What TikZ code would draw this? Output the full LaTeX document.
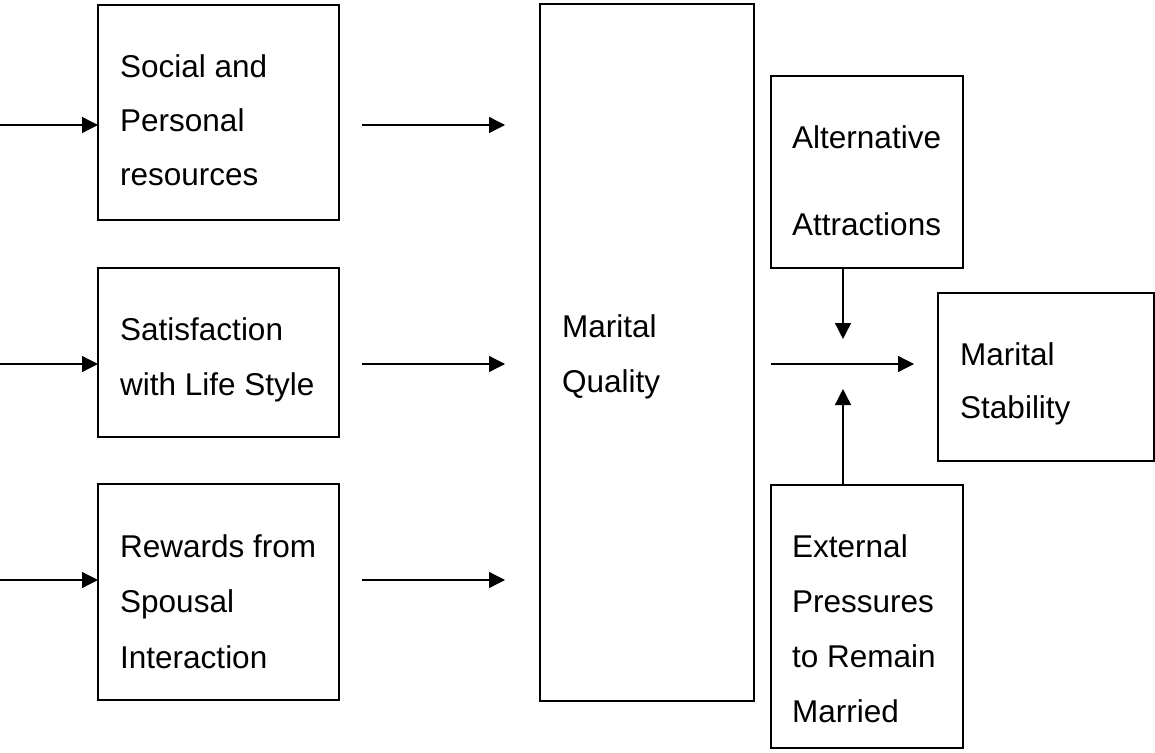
\documentclass[tikz,border=0pt]{standalone}
\usepackage{fontspec}
\setmainfont{Liberation Sans}
\usetikzlibrary{arrows.meta}
\begin{document}
\begin{tikzpicture}[x=1pt,y=-1pt,
  box/.style={draw, line width=1.3pt, inner sep=0pt, outer sep=0pt, anchor=north west},
  lbl/.style={anchor=base west, inner sep=0pt, font=\fontsize{31.5}{38}\selectfont},
  arr/.style={-{Triangle[length=16pt,width=16pt]}, line width=1.3pt}]
\useasboundingbox (0,0) rectangle (1155,752);
% boxes
\node[box, minimum width=241pt, minimum height=215pt] (b1) at (98,5) {};
\node[box, minimum width=241pt, minimum height=169pt] (b2) at (98,268) {};
\node[box, minimum width=241pt, minimum height=216pt] (b3) at (98,484) {};
\node[box, minimum width=214pt, minimum height=697pt] (mq) at (540,4) {};
\node[box, minimum width=192pt, minimum height=192pt] (alt) at (771,76) {};
\node[box, minimum width=216pt, minimum height=168pt] (ms) at (938,293) {};
\node[box, minimum width=192pt, minimum height=263pt] (ext) at (771,485) {};
% labels
\node[lbl] (t11) at (120,77) {Social and};
\node[lbl] (t12) at (120,131) {Personal};
\node[lbl] (t13) at (120,185) {resources};
\node[lbl] (t21) at (120,340) {Satisfaction};
\node[lbl] (t22) at (120,395) {with Life Style};
\node[lbl] (t31) at (120,557) {Rewards from};
\node[lbl] (t32) at (120,612) {Spousal};
\node[lbl] (t33) at (120,668) {Interaction};
\node[lbl] (tq1) at (562,337) {Marital};
\node[lbl] (tq2) at (562,392) {Quality};
\node[lbl] (ta1) at (792,148) {Alternative};
\node[lbl] (ta2) at (792,235) {Attractions};
\node[lbl] (ts1) at (960,365) {Marital};
\node[lbl] (ts2) at (960,418) {Stability};
\node[lbl] (te1) at (792,557) {External};
\node[lbl] (te2) at (792,612) {Pressures};
\node[lbl] (te3) at (792,667) {to Remain};
\node[lbl] (te4) at (792,722) {Married};
% input arrows
\coordinate (l1) at (0,125);
\coordinate (l2) at (0,364);
\coordinate (l3) at (0,580);
\draw[arr] (l1) -- (l1 -| b1.west);
\draw[arr] (l2) -- (l2 -| b2.west);
\draw[arr] (l3) -- (l3 -| b3.west);
% middle arrows
\coordinate (m1s) at (362,125); \coordinate (m1e) at (505,125);
\coordinate (m2s) at (362,364); \coordinate (m2e) at (505,364);
\coordinate (m3s) at (362,580); \coordinate (m3e) at (505,580);
\draw[arr] (m1s) -- (m1e);
\draw[arr] (m2s) -- (m2e);
\draw[arr] (m3s) -- (m3e);
% right arrow
\coordinate (rs) at (771,364); \coordinate (re) at (914,364);
\draw[arr] (rs) -- (re);
% vertical arrows
\coordinate (d1) at (843,339);
\coordinate (u1) at (843,389);
\draw[arr] (d1 |- alt.south) -- (d1);
\draw[arr] (u1 |- ext.north) -- (u1);
\end{tikzpicture}
\end{document}
